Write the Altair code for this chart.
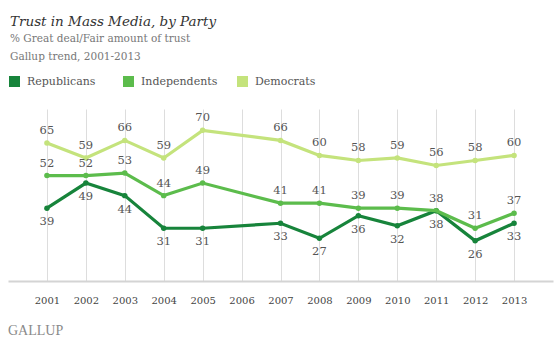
import altair as alt
import pandas as pd

years = ["2001", "2002", "2003", "2004", "2005", "2006", "2007", "2008", "2009", "2010", "2011", "2012", "2013"]
data_years = ["2001", "2002", "2003", "2004", "2005", "2007", "2008", "2009", "2010", "2011", "2012", "2013"]
republicans = [39, 49, 44, 31, 31, 33, 27, 36, 32, 38, 26, 33]
independents = [52, 52, 53, 44, 49, 41, 41, 39, 39, 38, 31, 37]
democrats = [65, 59, 66, 59, 70, 66, 60, 58, 59, 56, 58, 60]
series = ["Republicans", "Independents", "Democrats"]
colors = ["#17843b", "#5cbc4c", "#c4e37c"]

rows = []
for name, vals in zip(series, [republicans, independents, democrats]):
    for y, v in zip(data_years, vals):
        rows.append({"year": y, "value": v, "party": name})
df = pd.DataFrame(rows)

SERIF = "DejaVu Serif"

x = alt.X("year:O", scale=alt.Scale(type="point", domain=years, padding=1.05),
          axis=alt.Axis(title=None, labelAngle=0, ticks=False, grid=True, gridColor="#dddddd",
                        gridWidth=1, domainColor="#d4d4d4", domainWidth=2, labelFont=SERIF,
                        labelFontSize=10, labelColor="#444444", labelPadding=14))
y = alt.Y("value:Q", scale=alt.Scale(domain=[10, 78.5], nice=False, zero=False), axis=None)
color = alt.Color("party:N", scale=alt.Scale(domain=series, range=colors),
                  legend=alt.Legend(title=None, orient="none", legendX=1, legendY=-33,
                                    direction="horizontal", columns=3, gridAlign="all",
                                    symbolType="square", symbolSize=121, symbolStrokeWidth=0,
                                    labelFont=SERIF, labelFontSize=11, labelColor="#555555",
                                    labelOffset=7, columnPadding=19, padding=0))

base = alt.Chart(df)
points = base.mark_point(filled=True, size=30, opacity=1).encode(x=x, y=y, color=color)
lines = base.mark_line(strokeWidth=3.2).encode(x=x, y=y, color=color, detail="party:N")
lab_above = base.transform_filter(alt.datum.party != "Republicans").mark_text(
    dy=-12, font=SERIF, fontSize=11.5, color="#555555", baseline="middle").encode(
    x=x, y=y, text="value:Q")
lab_below = base.transform_filter(alt.datum.party == "Republicans").mark_text(
    dy=14, font=SERIF, fontSize=11.5, color="#555555", baseline="middle").encode(
    x=x, y=y, text="value:Q")
logo = alt.Chart(pd.DataFrame({"t": ["GALLUP"]})).mark_text(
    font="Liberation Serif", fontSize=14, color="#8a8a8a", align="left", baseline="alphabetic").encode(
    text="t:N", x=alt.value(0), y=alt.value(226))

chart = alt.layer(points, lines, lab_above, lab_below, logo).properties(
    width=545, height=172,
    autosize=alt.AutoSizeParams(type="none"),
    padding={"left": 8, "top": 109, "right": 7, "bottom": 61},
    title=alt.TitleParams(
        text="Trust in Mass Media, by Party",
        subtitle=["% Great deal/Fair amount of trust", "Gallup trend, 2001-2013"],
        anchor="start", frame="group", dx=2, offset=14,
        font=SERIF, fontStyle="italic", fontWeight="normal", fontSize=13.5, color="#333333",
        subtitleFont=SERIF, subtitleFontSize=10.5, subtitleColor="#777777",
        subtitleLineHeight=18, subtitlePadding=5),
).configure_view(stroke=None)

chart.save("out.html", embed_options={"renderer": "svg", "actions": False})
